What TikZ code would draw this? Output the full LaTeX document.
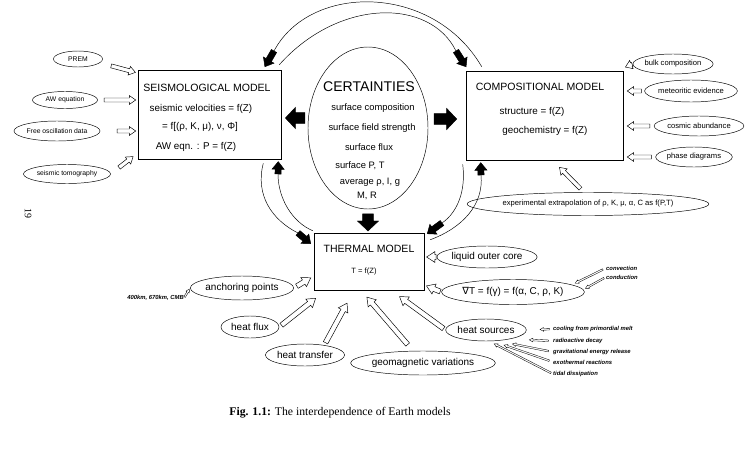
\documentclass[tikz,border=0pt]{standalone}
\usepackage{fontspec}
\setmainfont{Liberation Sans}
\newfontfamily\capfont{Liberation Serif}
\newfontfamily\symfont{DejaVu Sans}
\usetikzlibrary{shapes.geometric,calc,positioning}

\tikzset{
  blockarrow/.style n args={5}{to path={
      ($(\tikztostart)!#4!(\tikztotarget)$) coordinate (ba-s)
      ($(\tikztotarget)!#5!(\tikztostart)$) coordinate (ba-t)
      ($(ba-t)!#3!(ba-s)$) coordinate (ba-h)
      ($(ba-s)!#1!90:(ba-t)$) -- ($(ba-h)!#1!90:(ba-t)$)
      -- ($(ba-h)!#2!90:(ba-t)$) -- (ba-t)
      -- ($(ba-h)!#2!-90:(ba-t)$) -- ($(ba-h)!#1!-90:(ba-t)$)
      -- ($(ba-s)!#1!-90:(ba-t)$) -- cycle}},
  hollow/.style 2 args={draw, fill=white, line width=0.4pt, blockarrow={1.7pt}{3.8pt}{5.5pt}{#1}{#2}},
  wide/.style 2 args={draw, fill=white, line width=0.4pt, blockarrow={2.1pt}{4.6pt}{7pt}{#1}{#2}},
  slim/.style 2 args={draw, fill=white, line width=0.3pt, blockarrow={0.7pt}{1.6pt}{3pt}{#1}{#2}},
  fat/.style 2 args={draw, fill=black, blockarrow={4.6pt}{9pt}{8.5pt}{#1}{#2}},
  blk/.style 2 args={draw, fill=black, blockarrow={2.6pt}{5.2pt}{6.5pt}{#1}{#2}},
  loopline/.style={line width=0.4pt},
  modelbox/.style 2 args={draw, line width=0.5pt, minimum width=#1*0.03cm, minimum height=#2*0.03cm, inner sep=0pt},
  oval/.style 2 args={ellipse, draw, line width=0.4pt, minimum width=#1*0.03cm, minimum height=#2*0.03cm, inner sep=0pt},
  ttl/.style={font=\fontsize{9}{10}\selectfont},
  body/.style={font=\fontsize{8.4}{10}\selectfont},
  ctitle/.style={font=\fontsize{12}{14}\selectfont},
  ctext/.style={font=\fontsize{8}{9}\selectfont},
  lsmall/.style={font=\fontsize{5.8}{7}\selectfont},
  rsmall/.style={font=\fontsize{6.5}{8}\selectfont},
  tlab/.style={font=\fontsize{8.5}{10}\selectfont},
  note/.style={font=\fontsize{5}{6}\selectfont\bfseries\itshape, inner sep=0pt},
}

\begin{document}
\begin{tikzpicture}[x=0.03cm, y=-0.03cm]
\useasboundingbox (0,0) rectangle (752,474);

% models and certainties
\node[modelbox={143}{89}] (seis) at (209.5,114.5) {};
\node[modelbox={157}{89}] (comp) at (544.5,115.5) {};
\node[modelbox={110}{57}] (therm) at (369,261.5) {};
\node[oval={120}{162}] (cert) at (368,128) {};

\node[ttl] (seis-t) at (207,88) {SEISMOLOGICAL MODEL};
\node[body] (seis-a) at (201,109) {seismic velocities = f(Z)};
\node[body] (seis-b) at (200,127) {= f[(ρ, K, μ), ν, Φ]};
\node[body] (seis-c) at (196,147) {AW eqn. : P = f(Z)};

\node[ttl] (comp-t) at (540,87) {COMPOSITIONAL MODEL};
\node[body] (comp-a) at (532,112) {structure = f(Z)};
\node[body] (comp-b) at (545,131) {geochemistry = f(Z)};

\node[ttl] (therm-t) at (369,249) {THERMAL MODEL};
\node[rsmall] (therm-a) at (364,272) {T = f(Z)};

\node[ctitle] (cert-t) at (369,87) {CERTAINTIES};
\node[ctext] (cert-a) at (373,108) {surface composition};
\node[ctext] (cert-b) at (372,128) {surface field strength};
\node[ctext] (cert-c) at (369,147) {surface flux};
\node[ctext] (cert-d) at (360,166) {surface P, T};
\node[ctext] (cert-e) at (370,182) {average ρ, I, g};
\node[ctext] (cert-f) at (367,196) {M, R};

% seismological inputs
\node[oval={49}{16}, lsmall] (prem) at (78,59) {PREM};
\node[oval={65}{17}, lsmall] (aweq) at (65,100) {AW equation};
\node[oval={82}{20}, lsmall] (freeosc) at (57,131) {Free oscillation data};
\node[oval={87}{19}, lsmall] (tomo) at (67,174) {seismic tomography};

\draw[hollow={10pt}{2pt}] (prem.-10) to (seis.west |- 0,73);
\draw[hollow={5.5pt}{1.7pt}] (aweq.east) to (seis.west |- aweq);
\draw[hollow={14.5pt}{1.7pt}] (freeosc.east) to (seis.west |- freeosc);
\draw[hollow={9pt}{5pt}] (tomo.east) to (seis.west |- 0,153);

% compositional inputs
\node[oval={73}{20}, rsmall] (bulk) at (673,64) {bulk composition};
\node[oval={82}{22}, rsmall] (meteo) at (691,91) {meteoritic evidence};
\node[oval={82}{20}, rsmall] (cosmic) at (699,126) {cosmic abundance};
\node[oval={68}{20}, rsmall] (phase) at (694,157) {phase diagrams};
\node[oval={208}{23}, rsmall] (expt) at (588,204) {experimental extrapolation of ρ, K, μ, α, C as f(P,T)};

\draw[hollow={0.5pt}{2pt}] (bulk.west) to (comp.east |- 0,68);
\draw[hollow={2.5pt}{3.4pt}] (meteo.west) to (comp.east |- meteo);
\draw[hollow={3.4pt}{3.4pt}] (cosmic.west) to (comp.east |- cosmic);
\draw[hollow={3.4pt}{3.4pt}] (phase.west) to (comp.east |- phase);
\draw[hollow={4.3pt}{8.5pt}] ([shift={(-4,0)}]expt.north) to ([shift={(8,0)}]comp.south);

% thermal inputs
\node[oval={90}{22}, tlab] (liquid) at (487,257) {liquid outer core};
\node[oval={139}{25}, tlab] (gradT) at (513,292) {{\symfont ∇}T = f(γ) = f(α, C, ρ, K)};
\node[oval={75}{22}, tlab] (heatsrc) at (486,330) {heat sources};
\node[oval={114}{24}, tlab] (geomag) at (423,363) {geomagnetic variations};
\node[oval={78}{22}, tlab] (heattr) at (305,355) {heat transfer};
\node[oval={58}{22}, tlab] (heatflux) at (250,327) {heat flux};
\node[oval={89}{24}, tlab] (anchor) at (242,288) {anchoring points};

\draw[wide={0.5pt}{2pt}] (liquid.west) to (therm.east |- liquid);
\draw[wide={1pt}{2pt}] (gradT.west) to (therm.east |- 0,285);
\draw[wide={2pt}{9pt}] (heatsrc.west) to ([shift={(22,0)}]therm.south);
\draw[wide={7pt}{7.7pt}] ([shift={(-10,0)}]geomag.north) to ([shift={(-8,0)}]therm.south);
\draw[wide={1pt}{12.5pt}] ([shift={(20,0)}]heattr.north) to ([shift={(-15,0)}]therm.south);
\draw[wide={2.5pt}{11pt}] (heatflux.east) to ([shift={(12,0)}]therm.south west);
\draw[wide={3pt}{3pt}] (anchor.east) to (therm.west |- 0,276);

\node[note, anchor=east] (depths) at (184,298) {400km, 670km, CMB};
\draw[slim={1pt}{1pt}] (depths.east) to (anchor.west);

\node[note, anchor=west] (conv) at (606,268) {convection};
\node[note, anchor=west] (cond) at (606,277) {conduction};
\draw[slim={3pt}{3pt}] (conv.west) to (gradT.7);
\draw[slim={2pt}{2pt}] (cond.west) to (gradT.2);

\node[note, anchor=west] (cool) at (553,329) {cooling from primordial melt};
\node[note, anchor=west] (radio) at (553,341) {radioactive decay};
\node[note, anchor=west] (grav) at (553,352) {gravitational energy release};
\node[note, anchor=west] (exo) at (553,362) {exothermal reactions};
\node[note, anchor=west] (tidal) at (553,374) {tidal dissipation};
\draw[slim={3pt}{11.5pt}] (cool.west) to (heatsrc.east);
\draw[slim={4pt}{16pt}] (radio.west) to (heatsrc.-20);
\draw[slim={4pt}{13.5pt}] (grav.west) to (heatsrc.-45);
\draw[slim={3.4pt}{10.5pt}] (exo.west) to (heatsrc.-60);
\draw[slim={2pt}{5pt}] (tidal.west) to (heatsrc.-75);

% certainties feed all three models
\draw[fat={2.5pt}{3.5pt}] (cert.west |- 0,118) to (seis.east |- 0,118);
\draw[fat={5pt}{7.7pt}] (cert.east |- 0,119) to (comp.west |- 0,119);
\draw[fat={4pt}{1.5pt}] (cert.south) to (therm.north -| cert.south);

% loops between the models
\coordinate (hA) at (274,51);
\coordinate (hB) at (456,51);
\draw[loopline] ([shift={(16,-4)}]comp.north west) .. controls (433,-17) and (310,-17) .. (hA);
\draw[blk={0pt}{1pt}] (hA) to ([shift={(-17,-2)}]seis.north east);
\draw[loopline] ([shift={(-2,-5)}]seis.north east) .. controls (339,-2) and (430,-2) .. (hB);
\draw[blk={0pt}{1pt}] (hB) to ([shift={(1,-3)}]comp.north west);

\coordinate (hC) at (298,233);
\coordinate (hD) at (278,174);
\draw[loopline] ([shift={(-18,4)}]seis.south east) .. controls (255,195) and (272,220) .. (hC);
\draw[blk={0pt}{0pt}] (hC) to ([shift={(-3,11)}]therm.north west);
\draw[loopline] ([shift={(-1,-2)}]therm.north west) .. controls (292,222) and (278,198) .. (hD);
\draw[blk={0pt}{2pt}] (hD) to ([shift={(-3,0)}]seis.south east);

\coordinate (hE) at (442,223);
\coordinate (hF) at (481,175);
\draw[loopline] ([shift={(-3,4)}]comp.south west) .. controls (466,190) and (458,212) .. (hE);
\draw[blk={0pt}{0pt}] (hE) to ([shift={(3,1)}]therm.north east);
\draw[loopline] ([shift={(6,7)}]therm.north east) .. controls (462,228) and (484,205) .. (hF);
\draw[blk={0pt}{2pt}] (hF) to ([shift={(15,0)}]comp.south west);

% caption and page number
\node[font=\capfont\fontsize{10}{12}\selectfont] (caption) at (340,413) {\textbf{Fig. 1.1:} The interdependence of Earth models};
\node[font=\capfont\fontsize{8.5}{10}\selectfont, rotate=-90] (page) at (28,213) {19};
\end{tikzpicture}
\end{document}
